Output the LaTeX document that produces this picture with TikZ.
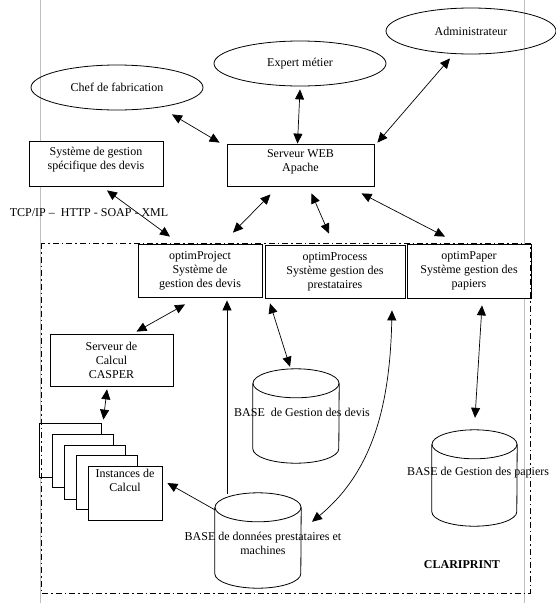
\documentclass[tikz,border=0pt]{standalone}
\usepackage{fontspec}
\setmainfont{Liberation Serif}
\usetikzlibrary{shapes.geometric,arrows.meta,calc}
\newcommand\drawcyl[2]{%
  \draw[line width=0.8pt] ($(#1.north west)+(0,14.5)$) -- ($(#1.south west)+(0,-14.5)$)
     arc[start angle=180,end angle=360,x radius=#2pt,y radius=14.5pt] -- ($(#1.north east)+(0,14.5)$);
  \draw[line width=0.8pt] ($(#1.north)+(0,14.5)$) ellipse[x radius=#2pt,y radius=14.5pt];}
\begin{document}
\begin{tikzpicture}[x=1pt,y=-1pt,
  every node/.style={font=\fontsize{12}{14}\selectfont},
  box/.style={draw,line width=0.8pt,rectangle,inner sep=0pt,fill=white,align=center},
  oval/.style={draw,line width=0.8pt,ellipse,inner sep=0pt},
  txt/.style={align=center,inner sep=0pt},
  bi/.style={line width=0.7pt,{Triangle[length=10pt,width=9pt]}-{Triangle[length=10pt,width=9pt]}},
  uni/.style={line width=0.7pt,-{Triangle[length=10pt,width=9pt]}},
  frame/.style={line width=0.8pt,dash pattern=on 6pt off 3pt on 1.5pt off 3pt},
  margin/.style={draw=black!25,line width=0.8pt}]
\useasboundingbox (0,0) rectangle (556,603);
% page margins
\coordinate (mlt) at (40.5,0); \coordinate (mlb) at (40.5,603);
\coordinate (mrt) at (524,0); \coordinate (mrb) at (524,603);
\draw[margin] (mlt) -- (mlb);
\draw[margin] (mrt) -- (mrb);
% actors
\node[oval,minimum width=172pt,minimum height=45pt] (chef) at (117,87.5) {Chef de fabrication};
\node[oval,minimum width=172pt,minimum height=45pt] (expert) at (300,63.5) {Expert métier};
\node[oval,minimum width=170pt,minimum height=46pt] (admin) at (471,31) {Administrateur};
% boxes
\node[box,minimum width=134pt,minimum height=45pt] (sysg) at (96,163.5) {};
\node[txt] at (96,159.5) {Système de gestion\\spécifique des devis};
\node[box,minimum width=147pt,minimum height=42pt] (web) at (300.5,165) {};
\node[txt] at (300.5,162) {Serveur WEB\\Apache};
\node[txt] (tcp) at (89,213) {TCP/IP –\ \ HTTP - SOAP - XML};
\node[box,minimum width=124pt,minimum height=53pt] (proj) at (200,270.5) {optimProject\\Système de\\gestion des devis};
\node[box,minimum width=140pt,minimum height=53pt] (proc) at (335,271.5) {optimProcess\\Système gestion des\\prestataires};
\node[box,minimum width=124pt,minimum height=54pt] (paper) at (469,271) {optimPaper\\Système gestion des\\papiers};
\node[box,minimum width=123pt,minimum height=52pt] (casper) at (111.5,360) {Serveur de\\Calcul\\CASPER};
% stacked instances
\node[box,minimum width=62pt,minimum height=54pt] (inst1) at (70,450) {};
\node[box,minimum width=61pt,minimum height=53pt] (inst2) at (82.5,460.5) {};
\node[box,minimum width=61pt,minimum height=54pt] (inst3) at (94.5,472) {};
\node[box,minimum width=61pt,minimum height=54pt] (inst4) at (106.5,482) {};
\node[box,minimum width=74pt,minimum height=54pt] (inst5) at (125,493) {};
\node[txt] at (125,480.5) {Instances de\\Calcul};
% databases
\node[inner sep=0pt,minimum width=86pt,minimum height=95pt] (bdd) at (258,540.5) {};
\node[inner sep=0pt,minimum width=86pt,minimum height=94pt] (bdevis) at (296,416) {};
\node[inner sep=0pt,minimum width=85pt,minimum height=96pt] (bpap) at (474.5,478) {};
\drawcyl{bdd}{43}
\drawcyl{bdevis}{43}
\drawcyl{bpap}{42.5}
\node[txt] at (302,412) {BASE\ \ de Gestion des devis};
\node[txt] at (478,473) {BASE de Gestion des papiers};
\node[txt] at (263,543) {BASE de données prestataires et\\machines};
\node[txt,font=\fontsize{12}{14}\selectfont\bfseries] at (462,565) {CLARIPRINT};
% connectors
\draw[bi] ($(chef.south)+(55,4)$) -- ($(web.north west)+(-7,-1)$);
\draw[bi] ($(expert.south)+(0,3)$) -- ($(web.north)+(-3,0)$);
\draw[bi] ($(admin.south)+(-21,4)$) -- ($(web.north east)+(3,-1)$);
\draw[bi] ($(sysg.south)+(11,4)$) -- ($(proj.north)+(-30,-7)$);
\draw[bi] ($(web.south)+(-30,8)$) -- ($(proj.north)+(33,-11)$);
\draw[bi] ($(web.south)+(11,7)$) -- ($(proc.north)+(-6,-11)$);
\draw[bi] ($(web.south)+(61,7)$) -- ($(paper.north)+(-24,-7)$);
\draw[bi] ($(proj.south)+(-15,7)$) -- ($(casper.north)+(25,-2)$);
\draw[bi] ($(casper.south)+(-4.5,3)$) -- ($(inst1.north east)+(2,-3)$);
\draw[uni] ($(bdd.north west)+(0,17)$) -- ($(inst5.east)+(5,-10)$);
\draw[uni] ($(bdd.north)+(-31,1)$) -- ($(proj.south)+(27,3)$);
\draw[bi] ($(proc.south)+(-65,5)$) -- ($(bdevis.north)+(-6,-2)$);
\draw[bi] ($(proc.south)+(57,12)$) .. controls ($(proc.south)+(55,102)$) and ($(bdd.north)+(117,-23)$) .. ($(bdd.north)+(54,29)$);
\draw[bi] ($(paper.south)+(13,7)$) -- ($(bpap.north)+(0.5,-12)$);
% CLARIPRINT frame
\coordinate (ftl) at (41,243); \coordinate (fbr) at (530,593);
\draw[frame] (ftl) rectangle (fbr);
\end{tikzpicture}
\end{document}
